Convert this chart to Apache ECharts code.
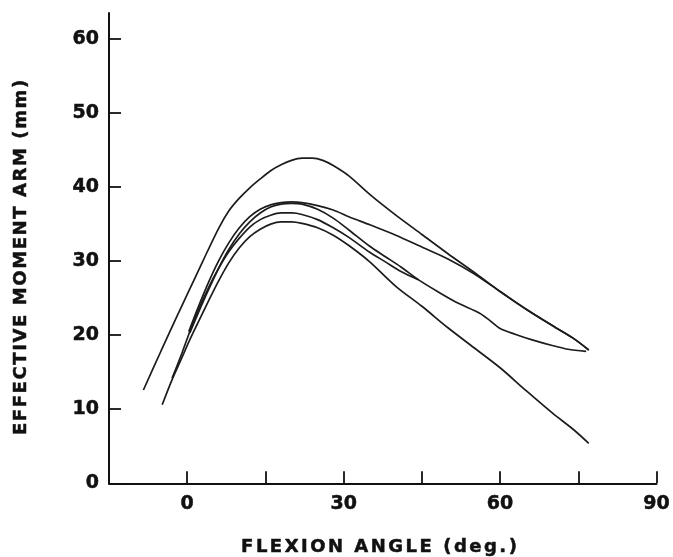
<!DOCTYPE html>
<html>
<head>
<meta charset="utf-8">
<script src="https://cdn.jsdelivr.net/npm/echarts@6/dist/echarts.min.js"></script>
<style>
html,body{margin:0;padding:0;background:#fff;}
#chart{width:673px;height:557px;}
</style>
</head>
<body>
<div id="chart"></div>
<script>
// ---- data (flexion angle in deg, effective moment arm in mm) ----
const angleA = [-8.4, -5, -2, 0, 3, 6, 8, 10, 12, 14, 16, 18, 20, 22, 24, 26, 28, 31, 35, 40, 45, 50, 55, 60, 65, 70, 74, 77];
const armA   = [12.6, 17.9, 22.5, 25.5, 30, 34.4, 36.8, 38.5, 39.9, 41.1, 42.2, 43.0, 43.6, 43.9, 43.9, 43.6, 42.9, 41.5, 39.0, 36.2, 33.6, 31.0, 28.5, 25.9, 23.5, 21.3, 19.6, 18.0];

const angleB = [0.3, 2, 4, 6, 8, 10, 12, 14, 16, 18, 20, 22, 25, 28, 31, 35, 40, 45, 50, 55, 60, 65, 70, 74, 77];
const armB   = [20.5, 23.6, 27.0, 30.0, 32.5, 34.5, 36.0, 37.0, 37.6, 37.9, 38.0, 37.9, 37.5, 36.9, 36.0, 34.9, 33.5, 31.9, 30.3, 28.3, 25.9, 23.5, 21.3, 19.6, 18.0];

const angleC = [0.5, 2, 4, 6, 8, 10, 12, 14, 16, 18, 20, 22, 25, 28, 31, 35, 38, 41, 44.3, 48, 52, 56, 58, 60, 63, 66, 70, 73, 76.5];
const armC   = [20.3, 22.8, 26.0, 29.0, 31.6, 33.7, 35.3, 36.5, 37.3, 37.7, 37.8, 37.7, 37.0, 35.8, 34.2, 32.0, 30.6, 29.2, 27.5, 25.9, 24.3, 23.0, 22.0, 20.9, 20.1, 19.4, 18.6, 18.1, 17.8];

const angleD = [-2.9, -1, 0.5, 2, 4, 6, 8, 10, 12, 14, 16, 18, 20, 22, 25, 28, 31, 35, 38, 41, 44.3];
const armD   = [14.2, 17.6, 20.5, 23.2, 26.3, 29.0, 31.3, 33.1, 34.6, 35.6, 36.2, 36.5, 36.5, 36.3, 35.6, 34.5, 33.2, 31.2, 29.9, 28.6, 27.5];

const angleE = [-4.8, -2.9, -1, 0.5, 2, 4, 6, 8, 10, 12, 14, 16, 18, 20, 22, 25, 28, 31, 35, 40, 45, 50, 55, 60, 65, 70, 74, 77];
const armE   = [10.6, 14.0, 17.0, 19.4, 21.6, 24.5, 27.3, 29.8, 31.8, 33.3, 34.3, 35.0, 35.3, 35.3, 35.1, 34.5, 33.5, 32.1, 29.9, 26.6, 23.9, 21.0, 18.3, 15.6, 12.5, 9.5, 7.3, 5.4];

const xTickValues  = [0, 15, 30, 45, 60, 75, 90];
const xLabelValues = [0, 30, 60, 90];
const yTickValues  = [0, 10, 20, 30, 40, 50, 60];
const xTitle = 'FLEXION ANGLE (deg.)';
const yTitle = 'EFFECTIVE MOMENT ARM (mm)';

// ---- helpers ----
const FONT = 'DejaVu Sans';
const INK = '#111';
function zip(xs, ys) { return xs.map((x, i) => [x, ys[i]]); }
function spaced(str) {
  const chars = str.split('');
  return chars.map((c, i) => '{' + (i === chars.length - 1 ? 'e' : 's') + '|' + c + '}').join('');
}
function richStyle(size, gap) {
  const base = {fontFamily: FONT, fontWeight: 'bold', fontSize: size, fill: INK,
                stroke: INK, lineWidth: 0.5};
  return {
    s: Object.assign({}, base, {padding: [0, gap, 0, 0]}),
    e: Object.assign({}, base)
  };
}
const tickFont = {fontFamily: FONT, fontWeight: 'bold', fontSize: 19, color: INK,
                  textBorderColor: INK, textBorderWidth: 0.5};

const lineStyle = {color: '#1c1c1c', width: 1.7};
function mkSeries(name, xs, ys) {
  return {
    name: name, type: 'line', data: zip(xs, ys), showSymbol: false, symbol: 'none',
    smooth: 0.3, lineStyle: lineStyle, silent: true, animation: false, z: 3
  };
}

const chart = echarts.init(document.getElementById('chart'), null, {renderer: 'canvas'});
chart.setOption({
  animation: false,
  backgroundColor: '#ffffff',
  grid: {left: 109, right: 12.5, top: 13, bottom: 73.7, containLabel: false},
  xAxis: {
    type: 'value', min: -15, max: 90, interval: 15,
    splitLine: {show: false},
    axisLine: {show: true, onZero: false, lineStyle: {color: INK, width: 2}},
    axisTick: {show: true, inside: true, length: 12, customValues: xTickValues, lineStyle: {color: INK, width: 1.8}},
    axisLabel: Object.assign({show: true, margin: 11, customValues: xLabelValues}, tickFont)
  },
  yAxis: {
    type: 'value', min: 0, max: 63.5, interval: 10,
    splitLine: {show: false},
    axisLine: {show: true, onZero: false, lineStyle: {color: INK, width: 2}},
    axisTick: {show: true, inside: true, length: 12, customValues: yTickValues, lineStyle: {color: INK, width: 1.8}},
    axisLabel: Object.assign({show: true, margin: 10, customValues: yTickValues}, tickFont)
  },
  graphic: [
    {
      type: 'text', x: 379, y: 547.5, silent: true,
      style: {text: spaced(xTitle), align: 'center', verticalAlign: 'middle', rich: richStyle(18, 2.5),
              fontFamily: FONT, fontWeight: 'bold', fontSize: 18, fill: INK}
    },
    {
      type: 'text', x: 21.7, y: 257.5, rotation: Math.PI / 2, silent: true,
      style: {text: spaced(yTitle), align: 'center', verticalAlign: 'middle', rich: richStyle(18, 1.6),
              fontFamily: FONT, fontWeight: 'bold', fontSize: 18, fill: INK}
    }
  ],
  series: [
    mkSeries('A', angleA, armA),
    mkSeries('B', angleB, armB),
    mkSeries('C', angleC, armC),
    mkSeries('D', angleD, armD),
    mkSeries('E', angleE, armE)
  ]
});
</script>
</body>
</html>
